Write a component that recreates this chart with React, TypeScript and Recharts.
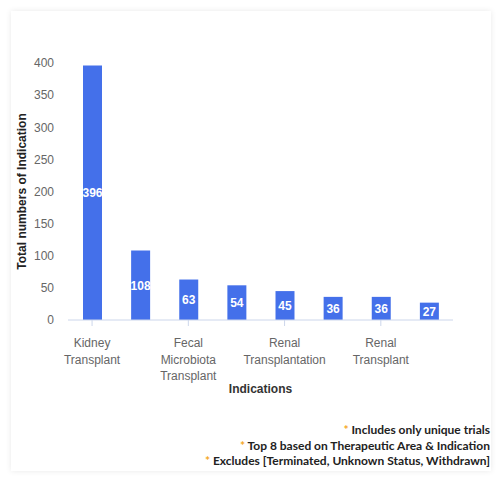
import React from "react";
import { BarChart, Bar, XAxis, YAxis, LabelList } from "recharts";

const categories = [
  "Kidney Transplant",
  "Liver Transplant",
  "Fecal Microbiota Transplant",
  "Lung Transplant",
  "Renal Transplantation",
  "Heart Transplant",
  "Renal Transplant",
  "Stem Cell Transplant",
];
const counts = [396, 108, 63, 54, 45, 36, 36, 27];
const yTicks = [0, 50, 100, 150, 200, 250, 300, 350, 400];
const notes = [
  "Includes only unique trials",
  "Top 8 based on Therapeutic Area & Indication",
  "Excludes [Terminated, Unknown Status, Withdrawn]",
];

const data = categories.map((name, i) => ({ name, value: counts[i] }));

const BLUE = "#4470ea";
const AXIS = "#ccd6eb";
const FONT = "'Liberation Sans', Arial, sans-serif";

// one word per line, like the original wrapped labels
const WrappedTick = ({ x, y, payload }: any) => {
  const words = String(payload.value).split(" ");
  return (
    <text x={x} y={y + 19} textAnchor="middle" fill="#666" fontSize={12} fontFamily={FONT}>
      {words.map((w, i) => (
        <tspan key={i} x={x} dy={i === 0 ? 0 : 16.5}>
          {w}
        </tspan>
      ))}
    </text>
  );
};

export default function App() {
  return (
    <div
      style={{
        position: "fixed",
        top: 0,
        left: 0,
        width: 500,
        height: 500,
        background: "#fff",
        fontFamily: FONT,
      }}
    >
      <div
        style={{
          position: "absolute",
          left: 11,
          top: 11,
          width: 480,
          height: 460,
          background: "#fff",
          boxShadow: "0 0 6px rgba(0,0,0,0.09)",
        }}
      />
      <div style={{ position: "absolute", left: 0, top: 0 }}>
        <BarChart
          width={500}
          height={400}
          data={data}
          margin={{ top: 63, right: 47, bottom: 20, left: 8 }}
          barSize={19}
        >
          <XAxis
            dataKey="name"
            interval={1}
            axisLine={{ stroke: AXIS }}
            tickLine={{ stroke: AXIS }}
            tickSize={6}
            height={60}
            tick={<WrappedTick />}
            label={(props: any) => {
              const vb = props.viewBox;
              return (
                <text
                  x={vb.x + vb.width / 2}
                  y={393}
                  textAnchor="middle"
                  fontSize={12}
                  fontWeight="bold"
                  fill="#333"
                  fontFamily={FONT}
                >
                  Indications
                </text>
              );
            }}
          />
          <YAxis
            domain={[0, 400]}
            ticks={yTicks}
            width={60}
            axisLine={false}
            tickLine={false}
            tickMargin={8}
            tick={{ fill: "#666", fontSize: 12, fontFamily: FONT }}
            label={(props: any) => {
              const vb = props.viewBox;
              const cy = vb.y + vb.height / 2;
              return (
                <text
                  x={22}
                  y={cy}
                  transform={`rotate(-90, 22, ${cy})`}
                  textAnchor="middle"
                  dominantBaseline="central"
                  fontSize={12}
                  fontWeight="bold"
                  fill="#222"
                  fontFamily={FONT}
                >
                  Total numbers of Indication
                </text>
              );
            }}
          />
          <Bar dataKey="value" fill={BLUE} isAnimationActive={false}>
            <LabelList
              dataKey="value"
              position="center"
              fill="#fff"
              fontSize={12}
              fontWeight="bold"
              fontFamily={FONT}
            />
          </Bar>
        </BarChart>
      </div>
      <div
        style={{
          position: "absolute",
          right: 10,
          top: 422,
          textAlign: "right",
          fontFamily: "Lato, sans-serif",
          fontWeight: "bold",
          fontSize: 12,
          lineHeight: "15.5px",
          color: "#222",
        }}
      >
        {notes.map((n) => (
          <div key={n}>
            <span style={{ color: "#f5a623" }}>*</span> {n}
          </div>
        ))}
      </div>
    </div>
  );
}
